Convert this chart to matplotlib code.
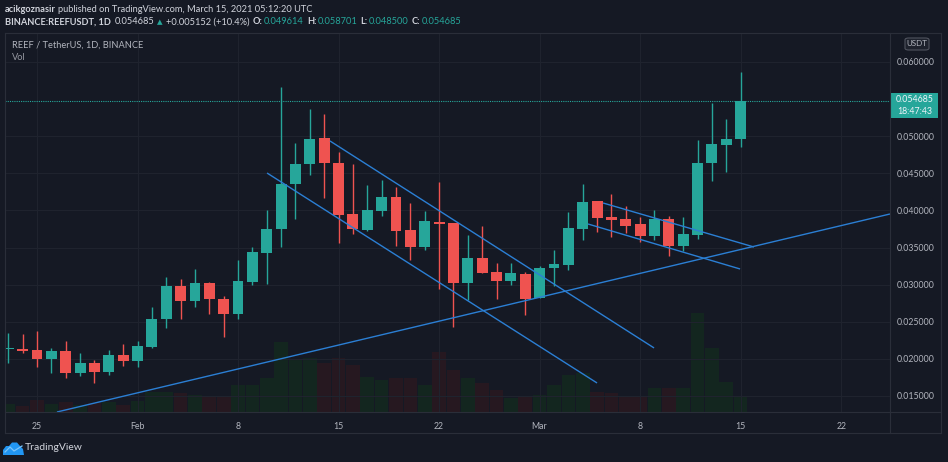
import matplotlib
matplotlib.use('Agg')
import matplotlib.pyplot as plt
import matplotlib.dates as mdates
from matplotlib.patches import Rectangle, FancyBboxPatch, Polygon
from matplotlib.lines import Line2D
import numpy as np
import pandas as pd

plt.rcParams['font.family'] = ['Lato', 'DejaVu Sans']

# ---------------- data ----------------
dates = pd.date_range('2021-01-23', '2021-03-15', freq='D')

opens = [0.02130, 0.02133, 0.02120, 0.01998, 0.02106, 0.01810, 0.01944, 0.01823, 0.02052, 0.01971,
         0.02160, 0.02537, 0.02982, 0.02780, 0.03022, 0.02807, 0.02605, 0.03036, 0.03426, 0.03750,
         0.04356, 0.04626, 0.04976, 0.04639, 0.03952, 0.03736, 0.03992, 0.04181, 0.03736, 0.03507,
         0.03844, 0.03830, 0.03022, 0.03359, 0.03170, 0.03049, 0.03143, 0.02820, 0.03224, 0.03265,
         0.03750, 0.04127, 0.03912, 0.03885, 0.03817, 0.03656, 0.03885, 0.03521, 0.03669, 0.04639,
         0.04882, 0.049614]
highs = [0.02350, 0.02335, 0.02375, 0.02146, 0.02241, 0.02079, 0.01985, 0.02120, 0.02200, 0.02241,
         0.02699, 0.03103, 0.03076, 0.03211, 0.03030, 0.02847, 0.03332, 0.03507, 0.04006, 0.05663,
         0.04909, 0.05367, 0.05299, 0.04787, 0.04626, 0.04343, 0.04410, 0.04316, 0.04100, 0.03992,
         0.04383, 0.03830, 0.03669, 0.03790, 0.03292, 0.03292, 0.03170, 0.03251, 0.03467, 0.03979,
         0.04356, 0.04127, 0.04221, 0.04060, 0.03912, 0.04006, 0.03925, 0.03912, 0.04949, 0.05448,
         0.05232, 0.058701]
lows = [0.01945, 0.02079, 0.01890, 0.01810, 0.01742, 0.01769, 0.01675, 0.01783, 0.01904, 0.01890,
        0.02150, 0.02416, 0.02537, 0.02699, 0.02605, 0.02295, 0.02537, 0.02995, 0.03009, 0.03507,
        0.03885, 0.04477, 0.04168, 0.03561, 0.03682, 0.03723, 0.03925, 0.03521, 0.03332, 0.03467,
        0.02941, 0.02429, 0.02793, 0.03157, 0.02807, 0.02995, 0.02591, 0.02820, 0.02982, 0.03197,
        0.03602, 0.03709, 0.03642, 0.03696, 0.03575, 0.03602, 0.03386, 0.03453, 0.03615, 0.04397,
        0.04518, 0.048500]
closes = [0.02135, 0.02106, 0.01998, 0.02106, 0.01810, 0.01944, 0.01823, 0.02052, 0.01971, 0.02173,
          0.02537, 0.02982, 0.02780, 0.03022, 0.02807, 0.02605, 0.03049, 0.03440, 0.03750, 0.04356,
          0.04626, 0.04963, 0.04639, 0.03938, 0.03750, 0.04006, 0.04181, 0.03723, 0.03507, 0.03858,
          0.03817, 0.03022, 0.03359, 0.03157, 0.03049, 0.03157, 0.02807, 0.03224, 0.03278, 0.03763,
          0.04114, 0.03898, 0.03871, 0.03790, 0.03656, 0.03885, 0.03521, 0.03682, 0.04639, 0.04895,
          0.04961, 0.054685]
volumes = [80, 60, 120, 80, 100, 70, 90, 100, 70, 110,
           200, 200, 190, 170, 150, 160, 270, 270, 340, 700,
           520, 540, 490, 540, 470, 350, 320, 340, 340, 270,
           600, 420, 340, 290, 220, 140, 150, 170, 270, 370,
           390, 200, 190, 150, 150, 240, 240, 240, 990, 640,
           300, 150]

# drawn trend lines (days after 2021-01-25, price)
support_days = [1.39, 59.4]
support_prices = [0.01284, 0.03952]
channel_upper_days = [20.40, 42.97]
channel_upper_prices = [0.04936, 0.02147]
channel_lower_days = [16.02, 39.00]
channel_lower_prices = [0.04504, 0.01675]
flag_upper_days = [39.42, 49.93]
flag_upper_prices = [0.04100, 0.03507]
flag_lower_days = [38.37, 48.96]
flag_lower_prices = [0.03817, 0.03211]

xtick_days = [0, 7, 14, 21, 28, 35, 42, 49, 56]
xtick_labels = ['25', 'Feb', '8', '15', '22', 'Mar', '8', '15', '22']
ytick_values = [0.015, 0.020, 0.025, 0.030, 0.035, 0.040, 0.045, 0.050, 0.060]
last_price = 0.054685

# ---------------- style ----------------
BG = '#151924'
GRID = '#1f232e'
GREEN = '#26a69a'
RED = '#ef5350'
VGREEN = '#13261f'
VRED = '#261820'
LINE = '#2b7fd4'
TXT = '#d1d4dc'
AXTXT = '#b2b5be'

W, H = 948, 462
def fx(x): return x / W
def fy(y): return 1 - y / H

fig = plt.figure(figsize=(W / 100, H / 100), dpi=100, facecolor=BG)
renderer = fig.canvas.get_renderer()

pos = [fx(5), fy(412), (890 - 5) / W, (412 - 34) / H]
base = mdates.date2num(pd.Timestamp('2021-01-25'))
xs = mdates.date2num(dates)
xlim = (base - 2.228, base + 59.40)

# volume axes (behind)
axv = fig.add_axes(pos)
axv.set_facecolor(BG)
vcols = [VGREEN if c >= o else VRED for o, c in zip(opens, closes)]
axv.bar(xs, volumes, width=0.95, color=vcols, linewidth=0)
axv.set_xlim(*xlim)
axv.set_ylim(0, 3780)
for s in axv.spines.values():
    s.set_visible(False)
axv.set_xticks([])
axv.set_yticks([])

# price axes
ax = fig.add_axes(pos)
ax.set_facecolor('none')
ax.set_xlim(*xlim)
ax.set_ylim(0.01284, 0.06377)
for s in ax.spines.values():
    s.set_visible(False)

for v in ytick_values:
    ax.axhline(v, color=GRID, lw=0.8, zorder=0)
for d in xtick_days:
    ax.axvline(base + d, color=GRID, lw=0.8, zorder=0)

cols = [GREEN if c >= o else RED for o, c in zip(opens, closes)]
min_h = 1.0 / 7422
bottoms = [min(o, c) for o, c in zip(opens, closes)]
heights = [max(abs(c - o), min_h) for o, c in zip(opens, closes)]
ax.vlines(xs, lows, highs, colors=cols, lw=1.0, zorder=3)
ax.bar(xs, heights, bottom=bottoms, width=0.76, color=cols, linewidth=0, zorder=4)

for dd, pp in [(support_days, support_prices), (channel_upper_days, channel_upper_prices),
               (channel_lower_days, channel_lower_prices), (flag_upper_days, flag_upper_prices),
               (flag_lower_days, flag_lower_prices)]:
    ax.plot([base + d for d in dd], pp, color=LINE, lw=1.0, zorder=5, solid_capstyle='butt')

ax.axhline(last_price, color=GREEN, lw=0.8, ls=(0, (1, 1)), zorder=5)

ax.set_xticks([base + d for d in xtick_days])
ax.set_xticklabels(xtick_labels)
ax.tick_params(axis='x', length=0, pad=7, labelsize=6.3, labelcolor=AXTXT)
ax.yaxis.tick_right()
ax.set_yticks(ytick_values)
ax.set_yticklabels([f'{v:.6f}' for v in ytick_values])
ax.tick_params(axis='y', length=0, pad=5, labelsize=6.3, labelcolor=AXTXT)

# frame lines
bc = '#2a2e39'
for (x0, y0, x1, y1) in [(5, 33, 941, 33), (5, 433, 941, 433), (5, 33, 5, 433), (941, 33, 941, 433),
                         (890, 33, 890, 433), (5, 412, 941, 412)]:
    fig.add_artist(Line2D([fx(x0), fx(x1)], [fy(y0), fy(y1)], color=bc, lw=0.8))

# last price label
fig.add_artist(Rectangle((fx(891), fy(118)), (938 - 891) / W, (118 - 93) / H, facecolor=GREEN,
                         edgecolor='none'))
fig.text(fx(915), fy(100), f'{last_price:.6f}', color='#f0f3fa', fontsize=6.3, ha='center', va='center')
fig.text(fx(915), fy(111.5), '18:47:43', color='#f0f3fa', fontsize=6.3, ha='center', va='center')

# USDT box
fig.add_artist(FancyBboxPatch((fx(905), fy(50)), (929 - 905) / W, (50 - 38) / H,
                              boxstyle='round,pad=0,rounding_size=0.004', facecolor='#1e222d',
                              edgecolor='#50535e', lw=0.8))
fig.text(fx(917), fy(44), 'USDT', color=AXTXT, fontsize=5.8, ha='center', va='center')

# header: pieces laid out one after another
FS = 6.7

def run(y, pieces, x0=5):
    x = x0
    for txt, col, bold, gap in pieces:
        kw = dict(color=col, fontsize=FS, va='center', fontweight='bold' if bold else 'normal')
        if txt == '▲':
            kw.update(fontsize=5.2, family=['DejaVu Sans'])
        t = fig.text(fx(x), fy(y), txt, **kw)
        bb = t.get_window_extent(renderer)
        x = bb.x1 + gap

run(9.5, [('acikgoznasir', TXT, True, 2.5),
          ('published on TradingView.com, March 15, 2021 05:12:20 UTC', TXT, False, 0)])
run(22, [('BINANCE:REEFUSDT, 1D', TXT, True, 3.5), ('0.054685', TXT, False, 3),
         ('▲', GREEN, False, 3), ('+0.005152 (+10.4%)', TXT, False, 3.5),
         ('O:', TXT, True, 1), ('0.049614', GREEN, False, 3.5),
         ('H:', TXT, True, 1), ('0.058701', GREEN, False, 3.5),
         ('L:', TXT, True, 1), ('0.048500', GREEN, False, 3.5),
         ('C:', TXT, True, 1), ('0.054685', GREEN, False, 0)])

fig.text(fx(12), fy(45), 'REEF / TetherUS, 1D, BINANCE', color=AXTXT, fontsize=FS, va='center')
fig.text(fx(12), fy(58), 'Vol', color='#9598a1', fontsize=FS, va='center')

# TradingView logo
icon = [(3, 455), (3, 450), (6, 446), (9, 446), (12, 442.5), (17, 442.5), (20, 446), (23, 449), (24, 455)]
fig.add_artist(Polygon([(fx(a), fy(b)) for a, b in icon], closed=True, facecolor='#2196f3',
                       edgecolor='none'))
fig.add_artist(Line2D([fx(5), fx(10), fx(14), fx(22)], [fy(452), fy(447), fy(451), fy(446)],
                      color='#7cc4fa', lw=0.9))
fig.text(fx(25), fy(448), 'TradingView', color=TXT, fontsize=7.5, va='center')

fig.savefig('out.png', dpi=100, facecolor=BG)
